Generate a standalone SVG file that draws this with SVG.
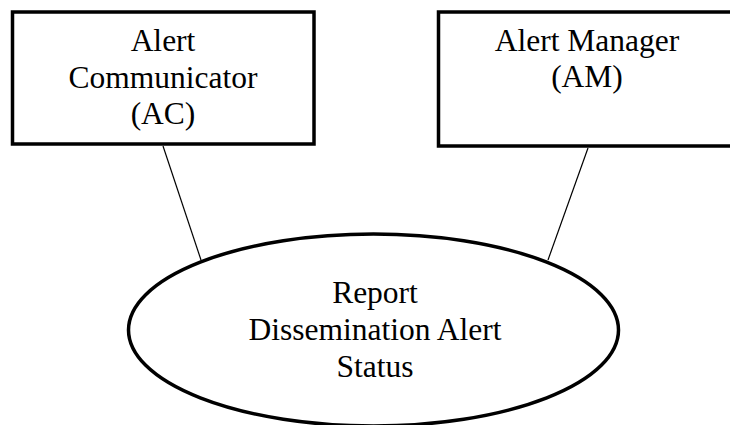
<svg xmlns="http://www.w3.org/2000/svg" width="730" height="425" viewBox="0 0 730 425">
<style>
.box{fill:#fff;stroke:#000;stroke-width:3.5}
.conn{stroke:#000;stroke-width:1.2;fill:none}
text{font-family:"Liberation Serif","Times New Roman",serif;font-size:31.5px;fill:#000;text-anchor:middle}
</style>
<rect width="730" height="425" fill="#fff"/>
<g id="connectors">
<line class="conn" x1="163" y1="146" x2="201" y2="260"/>
<line class="conn" x1="588" y1="148" x2="548" y2="260"/>
</g>
<g id="ac">
<rect class="box" x="12.5" y="12" width="301.5" height="132"/>
<text x="163" y="51">Alert</text>
<text x="163" y="87.5">Communicator</text>
<text x="163" y="124">(AC)</text>
</g>
<g id="am">
<rect class="box" x="438.5" y="12" width="300" height="134"/>
<text x="587" y="50.5">Alert Manager</text>
<text x="587" y="87">(AM)</text>
</g>
<g id="report">
<ellipse class="box" cx="373.5" cy="330" rx="245" ry="96"/>
<text x="375" y="303">Report</text>
<text x="375" y="340">Dissemination Alert</text>
<text x="375" y="376.5">Status</text>
</g>
</svg>
